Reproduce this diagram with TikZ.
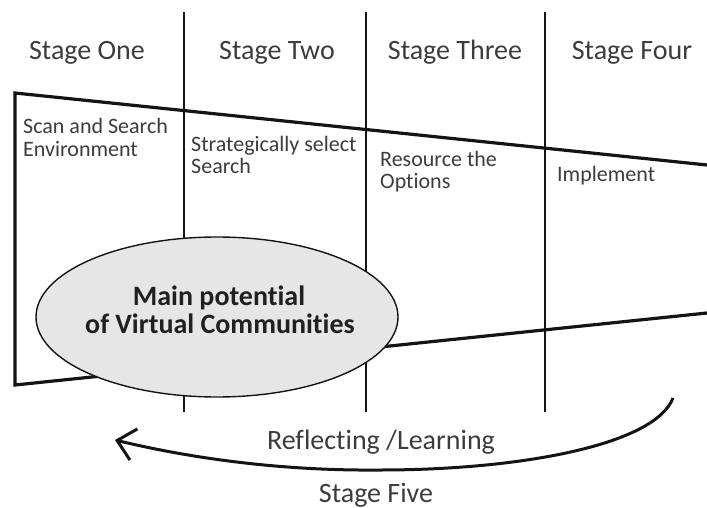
\documentclass[tikz,border=0pt]{standalone}
\usepackage{fontspec}
\setmainfont[RawFeature=-liga]{Carlito}
\usetikzlibrary{arrows.meta,shapes.geometric}
\definecolor{txt}{HTML}{3C3C3C}
\definecolor{ink}{HTML}{141414}
\definecolor{ellfill}{HTML}{E6E6E6}
\tikzset{
  stagelbl/.style={font=\fontsize{28}{30}\selectfont, text=txt, inner sep=0pt, anchor=base},
  steptxt/.style={font=\fontsize{22}{24}\selectfont, text=txt, inner sep=0pt, anchor=base west},
  mainline/.style={draw=ink, line width=3.2pt},
  divline/.style={draw=ink, line width=2.8pt},
  hub/.style={ellipse, draw=ink, line width=1.4pt, fill=ellfill, minimum width=362pt, minimum height=160pt, inner sep=0pt},
  hubtxt/.style={font=\bfseries\fontsize{28}{30}\selectfont, text=ink!95, inner sep=0pt, anchor=base},
  loop/.style={draw=ink, line width=3pt, -{Straight Barb[length=17pt,width=32pt,line width=3pt]}}
}
\begin{document}
\begin{tikzpicture}[x=1pt,y=-1pt]
\useasboundingbox (0,0) rectangle (707,508);
% coordinates
\coordinate (v1t) at (184,12); \coordinate (v1b) at (184,412);
\coordinate (v2t) at (366,12); \coordinate (v2b) at (366,412);
\coordinate (v3t) at (545,12); \coordinate (v3b) at (545,412);
\coordinate (tl) at (15,93); \coordinate (tr) at (707,165);
\coordinate (bl) at (15,385); \coordinate (br) at (707,313);
\coordinate (as) at (673,398); \coordinate (am) at (380,470); \coordinate (ae) at (115,440);
% lines
\draw[divline] (v1t) -- (v1b);
\draw[divline] (v2t) -- (v2b);
\draw[divline] (v3t) -- (v3b);
\draw[mainline, line join=miter] (tr) -- (tl) -- (bl) -- (br);
% ellipse
\node[hub] (hubnode) at (217,317) {};
\node[hubtxt] (hub1) at (219,305) {Main potential};
\node[hubtxt] (hub2) at (220,333) {of Virtual Communities};
% stage labels
\node[stagelbl] (s1) at (87,60) {Stage One};
\node[stagelbl] (s2) at (277,60) {Stage Two};
\node[stagelbl] (s3) at (455,60) {Stage Three};
\node[stagelbl] (s4) at (632,60) {Stage Four};
\node[stagelbl] (s5) at (376,502) {Stage Five};
% step texts
\node[steptxt] (t1a) at (23,134) {Scan and Search};
\node[steptxt] (t1b) at (23,157) {Environment};
\node[steptxt] (t2a) at (191,152) {Strategically select};
\node[steptxt] (t2b) at (191,174) {Search};
\node[steptxt] (t3a) at (380,167) {Resource the};
\node[steptxt] (t3b) at (380,189) {Options};
\node[steptxt] (t4a) at (557,182) {Implement};
% loop
\node[stagelbl] (refl) at (381,449) {Reflecting /Learning};
\draw[loop] (as) .. controls (655,445) and (520,470) .. (am) .. controls (280,471) and (190,458) .. (ae);
\end{tikzpicture}
\end{document}
